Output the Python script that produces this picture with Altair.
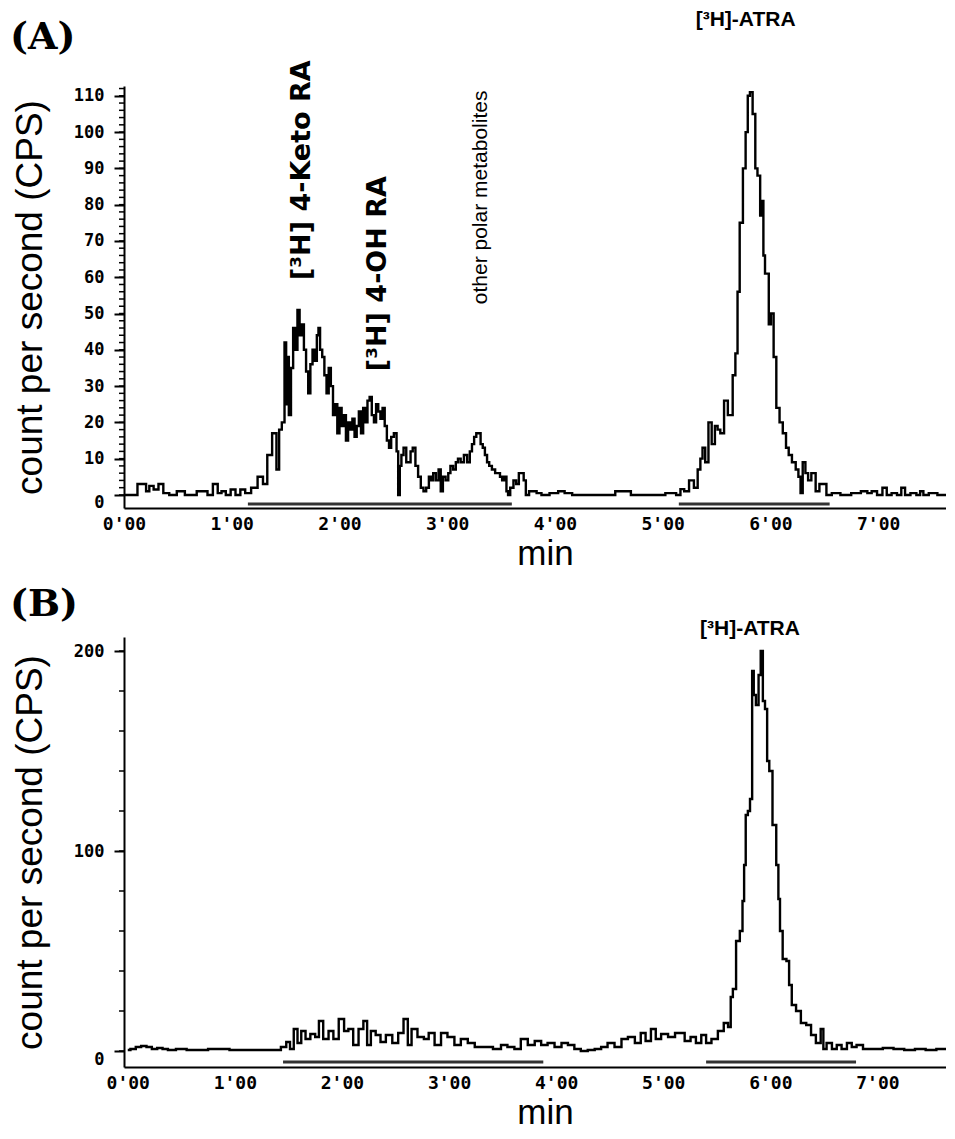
import altair as alt
import pandas as pd

# ---------------- data ----------------
# Panel (A): time (min), counts per second
a_trace = [
    (0.00, 0), (0.03, 0), (0.10, 0), (0.15, 3), (0.19, 3), (0.22, 1), (0.25, 2.5), (0.30, 1.5),
    (0.34, 3), (0.39, 0.5), (0.45, 0), (0.53, 1), (0.60, 0), (0.75, 1), (0.80, 0), (0.85, 3),
    (0.89, 0.5), (0.92, 1), (0.97, 0), (1.01, 1.5), (1.06, 0), (1.10, 1.5), (1.15, 0.5), (1.21, 2),
    (1.27, 5), (1.31, 3), (1.35, 11), (1.40, 17), (1.43, 7), (1.45, 18), (1.48, 20), (1.50, 42),
    (1.51, 25), (1.52, 38), (1.54, 22), (1.56, 35), (1.58, 46), (1.60, 40), (1.62, 51), (1.64, 44),
    (1.66, 47), (1.68, 40), (1.70, 34), (1.72, 28), (1.74, 36), (1.76, 40), (1.78, 37), (1.80, 44),
    (1.81, 46), (1.83, 40), (1.85, 38), (1.87, 33), (1.89, 28), (1.91, 35), (1.93, 30), (1.95, 22),
    (1.97, 25), (1.99, 17), (2.01, 24), (2.03, 19), (2.05, 22), (2.07, 15), (2.09, 20), (2.11, 18),
    (2.13, 21), (2.15, 16), (2.17, 19), (2.19, 23), (2.21, 17), (2.23, 24), (2.25, 20), (2.27, 26),
    (2.29, 27), (2.31, 22), (2.33, 20), (2.35, 25), (2.37, 23), (2.39, 21), (2.41, 24), (2.43, 19),
    (2.45, 15), (2.47, 13), (2.49, 16), (2.52, 17), (2.54, 12), (2.55, 0), (2.57, 8), (2.58, 11),
    (2.61, 13), (2.63, 9), (2.65, 9), (2.67, 12), (2.69, 13), (2.72, 8), (2.74, 5), (2.77, 2),
    (2.79, 1), (2.82, 2), (2.84, 5), (2.86, 4), (2.88, 6), (2.91, 4), (2.93, 7), (2.95, 1),
    (2.97, 5), (3.00, 4), (3.02, 6), (3.04, 8), (3.07, 7), (3.09, 9), (3.11, 10), (3.14, 9),
    (3.17, 11), (3.20, 9), (3.22, 12), (3.24, 14), (3.26, 16), (3.28, 17), (3.30, 17), (3.32, 14),
    (3.34, 13), (3.36, 11), (3.38, 9), (3.40, 8), (3.43, 7), (3.46, 6), (3.48, 6), (3.50, 5),
    (3.52, 4), (3.54, 5), (3.56, 1), (3.57, 0), (3.60, 2), (3.63, 4), (3.65, 3), (3.68, 6),
    (3.70, 6), (3.72, 4), (3.74, 0), (3.78, 1), (3.81, 1), (3.85, 0.5), (3.90, 0), (4.00, 0.5),
    (4.06, 1), (4.12, 0.5), (4.20, 0), (4.35, 0), (4.50, 0), (4.62, 1), (4.68, 1), (4.73, 0),
    (4.90, 0), (5.00, 0), (5.05, 0.5), (5.10, 0.5), (5.15, 0), (5.18, 1.6), (5.22, 1), (5.27, 4),
    (5.31, 2), (5.34, 7), (5.36, 10), (5.38, 13), (5.41, 9), (5.44, 20), (5.47, 14), (5.50, 19),
    (5.52, 18), (5.55, 17), (5.59, 26), (5.62, 22), (5.64, 22), (5.66, 33), (5.69, 39), (5.70, 56),
    (5.73, 75), (5.76, 90), (5.78, 100), (5.80, 110), (5.82, 111), (5.85, 105), (5.87, 90), (5.89, 88),
    (5.92, 77), (5.93, 81), (5.94, 66), (5.96, 61), (5.98, 61), (5.99, 47), (6.02, 50), (6.04, 38),
    (6.07, 24), (6.10, 20), (6.13, 17), (6.16, 13), (6.18, 11), (6.22, 9), (6.25, 7), (6.27, 5),
    (6.29, 0.5), (6.31, 9), (6.34, 6), (6.36, 4), (6.40, 6), (6.44, 1), (6.47, 3), (6.50, 3),
    (6.54, 0), (6.60, 0.5), (6.70, 0), (6.80, 0.5), (6.88, 1), (6.92, 0.5), (6.96, 1), (7.02, 0),
    (7.06, 2), (7.10, 0), (7.15, 0.5), (7.20, 0), (7.23, 2), (7.27, 0), (7.33, 0.5), (7.38, 0),
    (7.40, 1), (7.44, 0), (7.50, 0.5), (7.60, 0), (7.70, 0),
]

# Panel (B): time (min), counts per second
b_trace = [
    (0.00, 0.5), (0.05, 1), (0.10, 2), (0.15, 2.5), (0.20, 2), (0.25, 1), (0.30, 1.5), (0.35, 1),
    (0.40, 0.5), (0.50, 1), (0.60, 0.5), (0.70, 0.5), (0.80, 1), (0.90, 1), (1.00, 0.5), (1.10, 0.5),
    (1.20, 0.5), (1.30, 0.5), (1.40, 0.5), (1.46, 2), (1.50, 4.5), (1.53, 1), (1.57, 11), (1.60, 4),
    (1.64, 10), (1.68, 6), (1.73, 8.5), (1.77, 7), (1.80, 15), (1.85, 6), (1.90, 10), (1.94, 6),
    (2.00, 16), (2.04, 10), (2.08, 11), (2.13, 3), (2.18, 11), (2.22, 15), (2.25, 3), (2.29, 10),
    (2.34, 8), (2.38, 4.5), (2.44, 8), (2.50, 4), (2.55, 9), (2.60, 16), (2.63, 3), (2.67, 11),
    (2.74, 7), (2.79, 6), (2.83, 9), (2.90, 3), (2.95, 9), (3.02, 7), (3.08, 3), (3.14, 6),
    (3.21, 4), (3.27, 2), (3.36, 2), (3.46, 1), (3.51, 3), (3.58, 2), (3.64, 1), (3.70, 6),
    (3.77, 3), (3.83, 5), (3.89, 3), (3.95, 4), (4.02, 2), (4.08, 4), (4.14, 3), (4.20, 1),
    (4.26, 0), (4.33, 0.5), (4.39, 1), (4.45, 2), (4.51, 4), (4.58, 2), (4.64, 6), (4.70, 7),
    (4.77, 4), (4.81, 9), (4.86, 5), (4.91, 11), (4.95, 6), (5.01, 8.5), (5.08, 7), (5.14, 9),
    (5.17, 9), (5.23, 5), (5.28, 7), (5.33, 4), (5.38, 8), (5.42, 4), (5.48, 6), (5.54, 10),
    (5.59, 14), (5.62, 12), (5.64, 27), (5.66, 31), (5.70, 55), (5.73, 60), (5.75, 75), (5.76, 93),
    (5.78, 118), (5.80, 120), (5.82, 126), (5.84, 190), (5.85, 178), (5.88, 173), (5.90, 188), (5.92, 200),
    (5.94, 175), (5.96, 171), (5.98, 145), (6.00, 140), (6.04, 113), (6.07, 93), (6.08, 76), (6.10, 60),
    (6.13, 46), (6.17, 45), (6.18, 33), (6.22, 23), (6.26, 20), (6.31, 14), (6.36, 13), (6.40, 8),
    (6.45, 4), (6.49, 11), (6.50, 1), (6.55, 4), (6.60, 1), (6.64, 3), (6.69, 1), (6.74, 4),
    (6.78, 2), (6.83, 3), (6.90, 1), (7.00, 1), (7.10, 1.5), (7.20, 1), (7.30, 0.5), (7.40, 1),
    (7.50, 0.5), (7.60, 1), (7.72, 0.5),
]

x_ticks = [0, 1, 2, 3, 4, 5, 6, 7]
a_yticks = [0, 10, 20, 30, 40, 50, 60, 70, 80, 90, 100, 110]
a_yminor = list(range(0, 113, 2))
b_yticks = [0, 100, 200]
b_yminor = list(range(0, 207, 20))

# integration windows (min)
a_win_start = [1.15, 5.15]
a_win_end = [3.60, 6.55]
b_win_start = [1.45, 5.40]
b_win_end = [3.88, 6.80]

a_peak_labels = ["[³H] 4-Keto RA", "[³H] 4-OH RA"]
a_peak_t = [1.65, 2.36]
a_peak_v = [89.5, 61]
a_other_label = ["other polar metabolites"]
a_other_t = [3.31]
a_other_v = [82]
atra_label = ["[³H]-ATRA"]
a_atra_t = [5.77]
a_atra_v = [131]
b_atra_t = [5.81]
b_atra_v = [211]

SANS = "Liberation Sans"
MONO = "DejaVu Sans Mono"
W = 822


def panel(trace, xdom, ydom, yticks, yminor, win_s, win_e, win_y, height, tag, tag_y, label_layers):
    df = pd.DataFrame(trace, columns=["t", "v"])
    xsc = alt.Scale(domain=xdom, nice=False, zero=False)
    ysc = alt.Scale(domain=ydom, nice=False, zero=False)
    xaxis = alt.Axis(values=x_ticks, labelExpr="datum.value + \"'00\"", title="min",
                     titleFont=SANS, titleFontSize=35, titleFontWeight="normal", titleColor="black",
                     titleX=W / 2 + 10,
                     labelFont=MONO, labelFontSize=18, labelFontWeight="bold", labelColor="black",
                     ticks=False, labelPadding=7, titlePadding=3, domainColor="black", domainWidth=2,
                     grid=False, labelFlush=False)
    yaxis = alt.Axis(values=yticks, title="count per second (CPS)",
                     titleFont=SANS, titleFontSize=37, titleFontWeight="normal", titleColor="black",
                     labelFont=MONO, labelFontSize=17, labelFontWeight="bold", labelColor="black",
                     labelBaseline=alt.condition("datum.value == 0", alt.value("top"), alt.value("middle")),
                     tickSize=10, tickWidth=2, tickColor="black", domainColor="black", domainWidth=2,
                     labelPadding=10, titlePadding=24, grid=False)
    X = lambda f: alt.X(f, scale=xsc, axis=xaxis)
    Y = lambda f: alt.Y(f, scale=ysc, axis=yaxis)
    line = alt.Chart(df).mark_line(color="black", strokeWidth=2.4, interpolate="step", clip=True).encode(
        x=X("t:Q"), y=Y("v:Q"),
    )
    minor = alt.Chart(pd.DataFrame({"m": yminor})).mark_rule(color="black", strokeWidth=1.5).encode(
        y=Y("m:Q"), x=alt.value(-5), x2=alt.value(0),
    )
    win = alt.Chart(pd.DataFrame({"s": win_s, "e": win_e, "y": [win_y] * len(win_s)})).mark_rule(
        color="#333333", strokeWidth=3).encode(
        x=X("s:Q"), x2="e:Q", y=Y("y:Q"),
    )
    tag_layer = alt.Chart(pd.DataFrame({"lab": [tag]})).mark_text(
        font="DejaVu Serif", fontSize=38, fontWeight="bold", align="left", baseline="middle",
        color="black").encode(text="lab:N", x=alt.value(-114), y=alt.value(tag_y))
    layers = [line, minor, win, tag_layer]
    for labels, ts, vs, props in label_layers:
        d = pd.DataFrame({"lab": labels, "t": ts, "v": vs})
        layers.append(alt.Chart(d).mark_text(color="black", **props).encode(
            text="lab:N", x=X("t:Q"), y=Y("v:Q"),
        ))
    return alt.layer(*layers).properties(width=W, height=height)


panel_a = panel(
    a_trace, [0, 7.63], [-3.6, 112.7], a_yticks, a_yminor, a_win_start, a_win_end, -2.5, 422, "(A)", -48,
    [
        (a_peak_labels, a_peak_t, a_peak_v,
         dict(angle=270, fontSize=27, fontWeight="bold", font="DejaVu Sans")),
        (a_other_label, a_other_t, a_other_v,
         dict(angle=270, fontSize=21, fontWeight="normal", font=SANS)),
        (atra_label, a_atra_t, a_atra_v, dict(fontSize=21, fontWeight="bold", font=SANS)),
    ],
)
panel_b = panel(
    b_trace, [-0.035, 7.64], [-8, 207], b_yticks, b_yminor, b_win_start, b_win_end, -5.5, 430, "(B)", -32,
    [
        (atra_label, b_atra_t, b_atra_v, dict(fontSize=21, fontWeight="bold", font=SANS)),
    ],
)

chart = alt.vconcat(panel_a, panel_b, spacing=15).properties(
    padding={"left": 2, "top": 0, "right": 0, "bottom": 0}
).configure_view(stroke=None)

chart.save("out.html", embed_options={"renderer": "svg", "actions": False})
